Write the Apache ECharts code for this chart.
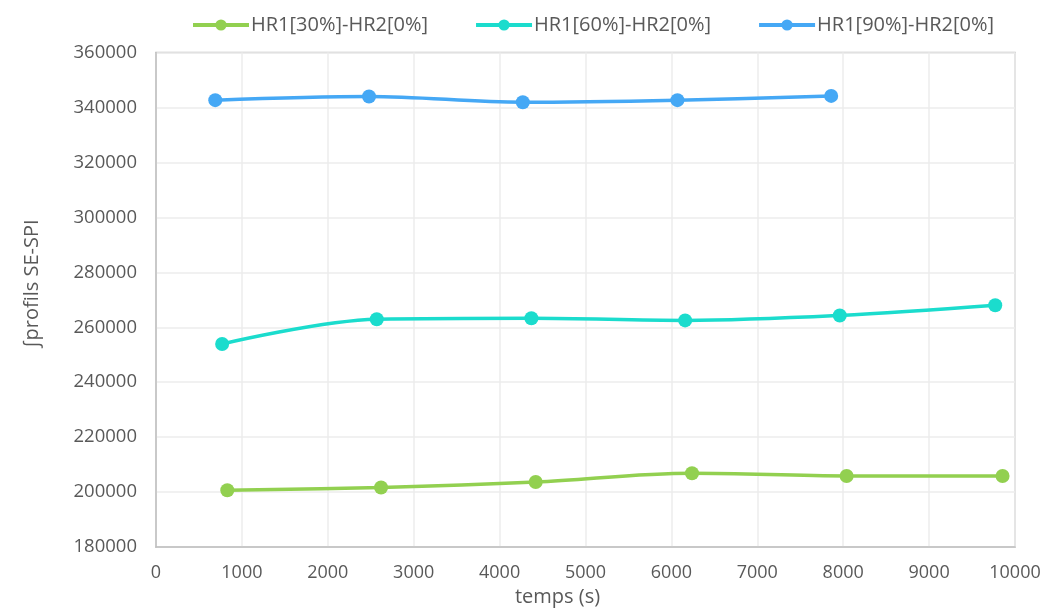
<!DOCTYPE html>
<html><head><meta charset="utf-8">
<script src="https://cdn.jsdelivr.net/npm/echarts@6/dist/echarts.min.js"></script>
<style>html,body{margin:0;padding:0;background:#fff;overflow:hidden}#c{width:1045px;height:612px}</style>
</head><body><div id="c"></div>
<script>
const seriesNames = ['HR1[30%]-HR2[0%]', 'HR1[60%]-HR2[0%]', 'HR1[90%]-HR2[0%]'];
const x30 = [830, 2620, 4420, 6240, 8040, 9855];
const y30 = [200700, 201700, 203700, 206900, 205900, 205900];
const x60 = [770, 2570, 4370, 6160, 7960, 9770];
const y60 = [253900, 262900, 263300, 262500, 264300, 268000];
const x90 = [690, 2480, 4270, 6070, 7860];
const y90 = [342650, 344000, 341900, 342650, 344200];
const colors = ['#92D050', '#1BDCCD', '#45A8F5'];
const xTitle = 'temps (s)';
const yTitle = '∫profils SE-SPI';

const pair = (xs, ys) => xs.map((v, i) => [v, ys[i]]);
const font = 'Open Sans';
const txt = '#595959';
const chart = echarts.init(document.getElementById('c'), null, {renderer: 'canvas', width: 1045, height: 612});
const mk = (name, data, color) => ({
  name, type: 'line', data, smooth: 0.35, symbol: 'circle', symbolSize: 14,
  lineStyle: {width: 3.5, color}, itemStyle: {color}
});
chart.setOption({
  animation: false,
  color: colors,
  textStyle: {fontFamily: font},
  legend: {
    top: 10, left: 186, itemWidth: 56, itemHeight: 14, itemGap: 46,
    lineStyle: {width: 4},
    textStyle: {fontFamily: font, fontSize: 20, color: txt, padding: [0, 0, 0, -3]},
    data: seriesNames
  },
  grid: {left: 156, width: 859, top: 52.5, height: 499, containLabel: false,
         show: true, borderColor: '#BFBFBF', borderWidth: 1.5, backgroundColor: 'transparent'},
  xAxis: {
    type: 'value', min: 0, max: 10000, interval: 1000,
    name: xTitle, nameLocation: 'middle', nameGap: 38,
    nameTextStyle: {fontFamily: font, fontSize: 20, color: txt, padding: [0, 56, 0, 0]},
    axisLine: {show: true, lineStyle: {color: '#BFBFBF', width: 1.5}},
    axisTick: {show: false},
    axisLabel: {fontFamily: font, fontSize: 18, color: txt, margin: 17, formatter: v => String(v)},
    splitLine: {show: true, lineStyle: {color: '#EDEDED', width: 1.5}}
  },
  yAxis: {
    type: 'value', min: 180000, max: 360000, interval: 20000,
    name: yTitle, nameLocation: 'middle', nameGap: 114,
    nameTextStyle: {fontFamily: font, fontSize: 20, color: txt, padding: [0, 0, 0, 32]},
    axisLine: {show: true, lineStyle: {color: '#BFBFBF', width: 1.5}},
    axisTick: {show: false},
    axisLabel: {fontFamily: font, fontSize: 18.5, color: txt, margin: 19, formatter: v => String(v)},
    splitLine: {show: true, lineStyle: {color: '#EDEDED', width: 1.5}}
  },
  series: [
    mk(seriesNames[0], pair(x30, y30), colors[0]),
    mk(seriesNames[1], pair(x60, y60), colors[1]),
    mk(seriesNames[2], pair(x90, y90), colors[2])
  ]
});
</script></body></html>
